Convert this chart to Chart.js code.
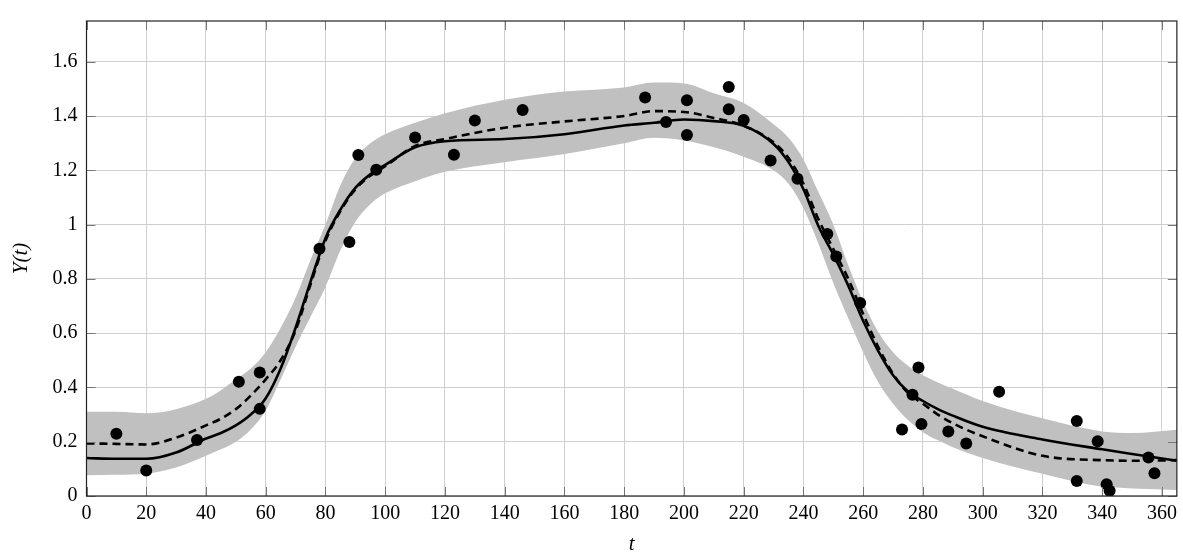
<!DOCTYPE html>
<html>
<head>
<meta charset="utf-8">
<script src="https://cdn.jsdelivr.net/npm/chart.js@4.4.0/dist/chart.umd.min.js"></script>
<style>
  html, body { margin: 0; padding: 0; background: #fff; }
  #wrap { width: 1183px; height: 559px; }
</style>
</head>
<body>
<div id="wrap"><canvas id="fit-chart"></canvas></div>
<script>
// observed points
const obsT = [10, 20, 37, 51, 58, 58, 78, 88, 91, 97, 110, 123, 130, 146, 187, 194, 201, 201, 215, 215, 220, 229, 238, 248, 251, 259, 273, 276.5, 278.5, 279.5, 288.5, 294.5, 305.5, 331.5, 331.5, 338.5, 341.5, 342.5, 355.5, 357.5];
const obsY = [0.229, 0.094, 0.206, 0.421, 0.455, 0.321, 0.911, 0.936, 1.256, 1.202, 1.321, 1.257, 1.383, 1.422, 1.468, 1.378, 1.458, 1.330, 1.507, 1.425, 1.385, 1.236, 1.169, 0.965, 0.882, 0.711, 0.245, 0.373, 0.473, 0.265, 0.238, 0.193, 0.384, 0.276, 0.055, 0.202, 0.043, 0.019, 0.142, 0.084];

// fitted curves, sampled at curveT
const curveT = [0, 10, 20, 30, 40, 45, 50, 55, 60, 65, 70, 75, 80, 85, 90, 95, 100, 110, 120, 140, 160, 180, 190, 200, 210, 220, 230, 235, 240, 245, 250, 255, 260, 265, 270, 275, 280, 285, 290, 300, 320, 340, 350, 365];
const meanY  = [0.140, 0.137, 0.137, 0.160, 0.212, 0.232, 0.260, 0.300, 0.360, 0.470, 0.620, 0.790, 0.950, 1.055, 1.135, 1.185, 1.220, 1.285, 1.307, 1.315, 1.333, 1.365, 1.375, 1.387, 1.381, 1.364, 1.297, 1.230, 1.130, 0.995, 0.890, 0.775, 0.645, 0.535, 0.445, 0.385, 0.350, 0.320, 0.296, 0.255, 0.208, 0.172, 0.155, 0.130];
const altY   = [0.194, 0.192, 0.190, 0.215, 0.260, 0.285, 0.320, 0.370, 0.430, 0.500, 0.610, 0.780, 0.940, 1.050, 1.130, 1.180, 1.215, 1.290, 1.315, 1.357, 1.380, 1.400, 1.418, 1.415, 1.393, 1.364, 1.303, 1.245, 1.150, 1.020, 0.910, 0.800, 0.670, 0.550, 0.450, 0.380, 0.340, 0.300, 0.268, 0.220, 0.148, 0.132, 0.130, 0.132];
const upperY = [0.310, 0.310, 0.305, 0.320, 0.358, 0.390, 0.430, 0.470, 0.530, 0.620, 0.730, 0.870, 1.000, 1.145, 1.245, 1.300, 1.333, 1.375, 1.410, 1.460, 1.490, 1.505, 1.523, 1.520, 1.484, 1.448, 1.370, 1.320, 1.240, 1.120, 1.000, 0.850, 0.715, 0.605, 0.530, 0.480, 0.445, 0.418, 0.395, 0.350, 0.286, 0.238, 0.232, 0.244];
const lowerY = [0.076, 0.078, 0.082, 0.105, 0.148, 0.172, 0.200, 0.245, 0.315, 0.430, 0.550, 0.660, 0.770, 0.905, 1.010, 1.075, 1.115, 1.160, 1.195, 1.230, 1.260, 1.300, 1.320, 1.310, 1.285, 1.250, 1.200, 1.150, 1.060, 0.930, 0.785, 0.655, 0.530, 0.420, 0.340, 0.280, 0.235, 0.205, 0.180, 0.140, 0.082, 0.034, 0.028, 0.022];

const xTicks = [0, 20, 40, 60, 80, 100, 120, 140, 160, 180, 200, 220, 240, 260, 280, 300, 320, 340, 360];
const yTicks = [0, 0.2, 0.4, 0.6, 0.8, 1, 1.2, 1.4, 1.6];

// Times-like digits are exactly half an em wide; use Liberation Serif when it
// is really there, otherwise DejaVu Serif a little smaller
function pickSerif() {
    const ctx = document.createElement("canvas").getContext("2d");
    ctx.font = "20px \"Liberation Serif\"";
    const w = ctx.measureText("0123456789").width;
    if (Math.abs(w - 100) < 1.5) {
        return { family: "\"Liberation Serif\", serif", size: 20, title: 21 };
    }
    return { family: "\"DejaVu Serif\", serif", size: 17, title: 18 };
}

function pts(xs, ys) {
    return xs.map((x, i) => ({ x: x, y: ys[i] }));
}

// frame round the plot area, with short ticks pointing inward
const framePlugin = {
    id: "frame",
    afterDatasetsDraw(chart) {
        const ctx = chart.ctx;
        const a = chart.chartArea;
        const xs = chart.scales.x;
        const ys = chart.scales.y;
        const len = 9;
        ctx.save();
        ctx.strokeStyle = "#777";
        ctx.lineWidth = 1;
        ctx.beginPath();
        xTicks.forEach(v => {
            const p = Math.round(xs.getPixelForValue(v)) + 0.5;
            ctx.moveTo(p, a.bottom); ctx.lineTo(p, a.bottom - len);
            ctx.moveTo(p, a.top); ctx.lineTo(p, a.top + len);
        });
        yTicks.forEach(v => {
            const p = Math.round(ys.getPixelForValue(v)) + 0.5;
            ctx.moveTo(a.left, p); ctx.lineTo(a.left + len, p);
            ctx.moveTo(a.right, p); ctx.lineTo(a.right - len, p);
        });
        ctx.stroke();
        ctx.strokeStyle = "#222";
        ctx.lineWidth = 1.2;
        ctx.strokeRect(a.left, a.top, a.right - a.left, a.bottom - a.top);
        ctx.restore();
    },
};

function initChart() {
    const canvas = document.getElementById("fit-chart");
    const f = pickSerif();
    Chart.defaults.font.family = f.family;

    const config = {
        type: "line",
        data: {
            datasets: [
                {
                    label: "obs",
                    data: pts(obsT, obsY),
                    showLine: false,
                    pointRadius: 6,
                    pointBackgroundColor: "#000",
                    pointBorderWidth: 0,
                    order: 0,
                },
                {
                    label: "mean",
                    data: pts(curveT, meanY),
                    borderColor: "#000",
                    borderWidth: 2.6,
                    pointRadius: 0,
                    cubicInterpolationMode: "monotone",
                    fill: false,
                    order: 1,
                },
                {
                    label: "alt",
                    data: pts(curveT, altY),
                    borderColor: "#000",
                    borderWidth: 2.6,
                    borderDash: [8, 5],
                    pointRadius: 0,
                    cubicInterpolationMode: "monotone",
                    fill: false,
                    order: 2,
                },
                {
                    label: "upper",
                    data: pts(curveT, upperY),
                    borderWidth: 0,
                    borderColor: "rgba(0,0,0,0)",
                    backgroundColor: "#c0c0c0",
                    pointRadius: 0,
                    cubicInterpolationMode: "monotone",
                    fill: "+1",
                    order: 3,
                },
                {
                    label: "lower",
                    data: pts(curveT, lowerY),
                    borderWidth: 0,
                    borderColor: "rgba(0,0,0,0)",
                    pointRadius: 0,
                    cubicInterpolationMode: "monotone",
                    fill: false,
                    order: 4,
                },
            ],
        },
        options: {
            responsive: true,
            maintainAspectRatio: false,
            animation: false,
            layout: {
                padding: { left: 0, right: 6, top: 11, bottom: 0 },
            },
            plugins: {
                legend: { display: false },
                tooltip: { enabled: false },
            },
            scales: {
                x: {
                    type: "linear",
                    min: 0,
                    max: 365,
                    afterBuildTicks: (scale) => {
                        scale.ticks = xTicks.map(v => ({ value: v }));
                    },
                    afterFit: (scale) => {
                        scale.height = 63;
                    },
                    ticks: {
                        autoSkip: false,
                        maxRotation: 0,
                        padding: 6,
                        color: "#000",
                        font: { family: f.family, size: f.size },
                        callback: (v) => String(v),
                    },
                    grid: {
                        color: "#cfcfcf",
                        lineWidth: 1,
                        drawTicks: false,
                    },
                    border: { display: false },
                    title: {
                        display: true,
                        text: "t",
                        color: "#000",
                        font: { family: f.family, size: f.title, style: "italic" },
                        padding: { top: 0, bottom: 2 },
                    },
                },
                y: {
                    type: "linear",
                    min: 0,
                    max: 1.75,
                    afterBuildTicks: (scale) => {
                        scale.ticks = yTicks.map(v => ({ value: v }));
                    },
                    afterFit: (scale) => {
                        scale.width = 86.5;
                    },
                    ticks: {
                        autoSkip: false,
                        padding: 9,
                        color: "#000",
                        font: { family: f.family, size: f.size },
                        callback: (v) => String(v),
                    },
                    grid: {
                        color: "#cfcfcf",
                        lineWidth: 1,
                        drawTicks: false,
                    },
                    border: { display: false },
                    title: {
                        display: true,
                        text: "Y(t)",
                        color: "#000",
                        font: { family: f.family, size: f.title, style: "italic" },
                        padding: { top: 9, bottom: 0 },
                    },
                },
            },
        },
        plugins: [framePlugin],
    };

    canvas.chart = new Chart(canvas, config);
}

document.addEventListener("DOMContentLoaded", initChart);
</script>
</body>
</html>
